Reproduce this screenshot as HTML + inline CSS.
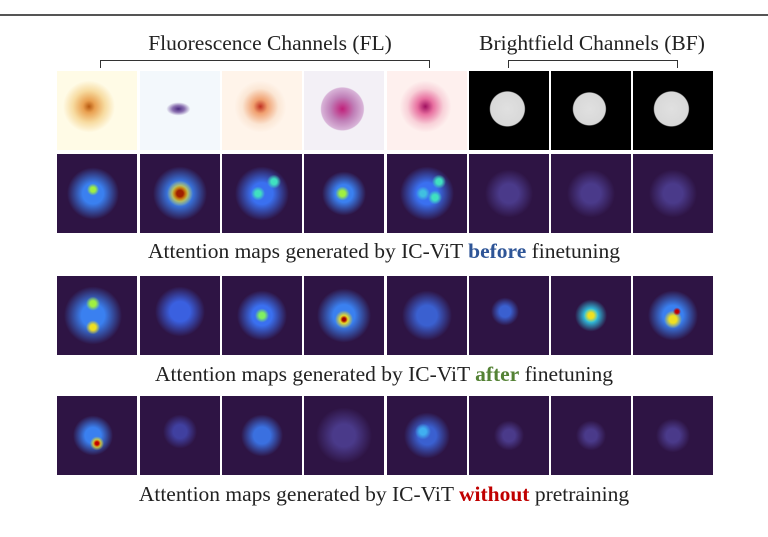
<!DOCTYPE html>
<html><head><meta charset="utf-8"><style>
body{margin:0;width:768px;height:537px;background:#fff;position:relative;overflow:hidden;font-family:"Liberation Serif",serif;}
.t{position:absolute;width:80px;height:79px;}
.txt{position:absolute;font-size:21.5px;color:#222;white-space:nowrap;text-align:center;}
.br{position:absolute;border:1.5px solid #333;border-bottom:none;height:7px;}
</style></head><body>
<div style="position:absolute;left:0;top:14px;width:768px;height:2px;background:#555"></div>
<div class="txt" style="left:100px;width:340px;top:31px">Fluorescence Channels (FL)</div>
<div class="txt" style="left:470px;width:244px;top:31px">Brightfield Channels (BF)</div>
<div class="br" style="left:100px;width:328px;top:60px"></div>
<div class="br" style="left:508px;width:168px;top:60px"></div>
<div id="grid"></div>
<div class="txt" style="left:0;width:768px;top:239px">Attention maps generated by IC-ViT <b style="color:#2e5597">before</b> finetuning</div>
<div class="txt" style="left:0;width:768px;top:362px">Attention maps generated by IC-ViT <b style="color:#548235">after</b> finetuning</div>
<div class="txt" style="left:0;width:768px;top:482px">Attention maps generated by IC-ViT <b style="color:#c00000">without</b> pretraining</div>
<script>
const xs=[57,140,222,304,387,469,551,633];
const ys=[71,154,276,396];
const row1=[
"radial-gradient(circle at 40% 45%,#b85a10 0,#e9a050 6px,#f7dba0 16px,#fffbe6 26px)",
"radial-gradient(ellipse 9px 5px at 48% 48%,#4b2a80 0,#8a70b0 6px,#f3f8fc 12px)",
"radial-gradient(circle at 48% 45%,#c03020 0,#f0a070 7px,#fbe6d4 18px,#fff4ea 26px)",
"radial-gradient(circle at 48% 48%,#c0207a 0,#c080b8 12px,#d8b4d8 21px,#f3f0f6 22px)",
"radial-gradient(circle at 48% 45%,#a01060 0,#e870a0 8px,#f8d0d8 18px,#fef0ee 26px)",
"radial-gradient(circle at 48% 48%,#e0e0e0 0,#d8d8d8 17px,#000 18px)",
"radial-gradient(circle at 48% 48%,#e0e0e0 0,#d8d8d8 16px,#000 17px)",
"radial-gradient(circle at 48% 48%,#e0e0e0 0,#d8d8d8 17px,#000 18px)"];
function blob(x,y,c,r){return `radial-gradient(circle at ${x}% ${y}%,${c} 0,${c} ${r*0.4}px,${c}00 ${r}px)`;}
const rows=[
[[blob(45,45,"#a0f040",6),blob(45,50,"#3a80f0",26)],[blob(50,50,"#a02000",8),blob(50,50,"#f0e020",13),blob(50,50,"#3a80f0",27)],[blob(45,50,"#40e0c0",7),blob(65,35,"#40e0c0",7),blob(50,50,"#3a70f0",27)],[blob(48,50,"#a0f040",7),blob(50,50,"#3a80f0",22)],[blob(65,35,"#40e0c0",7),blob(45,50,"#40c0e0",7),blob(60,55,"#40e0c0",7),blob(50,50,"#3a70f0",27)],[blob(50,50,"#4a3a8a",24)],[blob(50,50,"#4a3a8a",24)],[blob(50,50,"#4a3a8a",24)]],
[[blob(45,35,"#a0f040",7),blob(45,65,"#f0e020",7),blob(45,50,"#3a80f0",29)],[blob(50,45,"#3a60e0",25)],[blob(50,50,"#80f060",7),blob(50,50,"#3a70f0",25)],[blob(50,55,"#a00000",4),blob(50,55,"#f0e020",9),blob(50,50,"#3a80f0",27)],[blob(50,50,"#3a60d0",25)],[blob(45,45,"#3a60d0",14)],[blob(50,50,"#f0e020",7),blob(50,50,"#30c0e0",16)],[blob(55,45,"#c00000",4),blob(50,55,"#f0e020",9),blob(50,50,"#3a80f0",25)]],
[[blob(50,60,"#c00000",4),blob(50,60,"#f0e020",7),blob(45,50,"#3a80f0",20)],[blob(50,45,"#4040a0",17)],[blob(50,50,"#3a70e0",21)],[blob(50,50,"#4a3a8a",28)],[blob(45,45,"#40b0f0",8),blob(50,50,"#3a60d0",23)],[blob(50,50,"#4a3a8a",15)],[blob(50,50,"#4a3a8a",15)],[blob(50,50,"#4a3a8a",17)]]];
const g=document.getElementById('grid');
ys.forEach((y,ri)=>xs.forEach((x,ci)=>{
const el=document.createElement('div');
el.className='t';
el.style.left=x+'px';el.style.top=y+'px';
el.style.background=ri===0?row1[ci]:rows[ri-1][ci].join(',')+',#2e1444';


g.appendChild(el);}));
</script>
</body></html>
